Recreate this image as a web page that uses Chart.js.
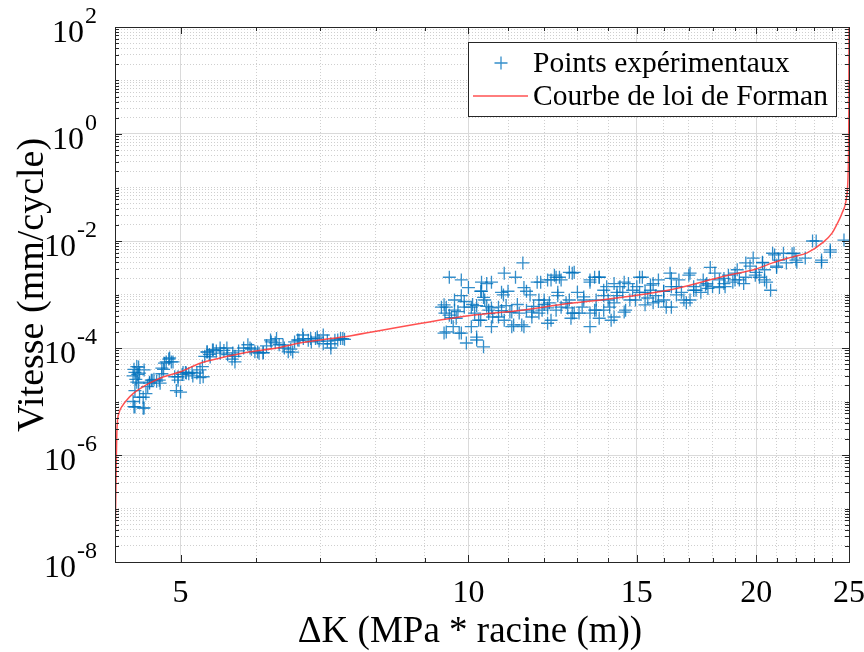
<!DOCTYPE html>
<html>
<head>
<meta charset="utf-8">
<script src="https://cdn.jsdelivr.net/npm/chart.js@4.4.1/dist/chart.umd.min.js"></script>
<style>
  html, body { margin: 0; padding: 0; background: #fff; }
</style>
</head>
<body>
<canvas id="crackChart" width="864" height="652"></canvas>
<script>
// Tick values
const xTickLabels = [5, 10, 15, 20, 25];
const xMinorTicks = [6, 7, 8, 9, 11, 12, 13, 14, 16, 17, 18, 19, 21, 22, 23, 24];
const yTickExponents = [-8, -6, -4, -2, 0, 2];
const xTitle = 'ΔK (MPa * racine (m))';
const yTitle = 'Vitesse (mm/cycle)';

// Points expérimentaux (delta K, vitesse)
const pointsK = [
  4.46, 4.47, 4.48, 4.49, 4.50, 4.51, 4.52, 4.48, 4.46, 4.47,
  4.53, 4.57, 4.60, 4.62, 4.64, 4.66, 4.69, 4.72, 4.75, 4.78,
  4.80, 4.83, 4.86, 4.89, 4.93, 4.95, 4.97, 5.02, 5.06, 5.10,
  5.15, 5.20, 5.24, 5.27, 5.30, 5.33, 5.36, 5.40, 5.45, 5.50,
  5.55, 5.60, 5.66, 5.70, 5.75, 5.82, 5.88, 5.93, 5.98, 6.04,
  6.10, 6.15, 6.22, 6.28, 6.34, 6.42, 6.48, 6.52, 6.58, 6.65,
  6.72, 6.80, 6.85, 6.92, 6.98, 7.05, 7.12, 7.18, 7.25, 7.35, 7.42,
  4.52, 4.53, 4.58, 4.50, 4.57, 4.48, 4.58, 4.64, 4.67, 4.76,
  4.78, 4.81, 4.87, 4.91, 4.97, 5.00, 5.03, 5.07, 5.14, 5.24,
  5.28, 5.33, 5.41, 5.50, 5.59, 5.37,
  5.67, 5.70, 5.91, 6.02, 6.10, 6.21, 6.30, 6.40, 6.55, 6.63,
  6.71, 6.84, 6.95, 7.05, 7.18, 7.30, 7.39,
  9.55, 9.83, 10.32, 10.57, 10.9, 11.2, 11.4, 10.0, 10.3, 9.83,
  9.37, 9.48, 9.67, 9.9, 10.07, 9.43, 9.64, 9.6, 9.83, 9.95,
  10.2, 10.37, 10.07, 10.3, 10.4, 10.5, 10.6, 10.57, 10.75, 10.83,
  11.0, 11.05, 11.1, 11.37, 11.3, 11.5, 11.5, 11.8, 11.85, 11.85,
  12.1, 12.15, 12.1, 12.3, 12.4, 12.5, 12.5, 12.75, 12.9, 13.05,
  13.15, 13.4, 13.4, 13.55, 13.6, 13.7, 13.85, 13.85, 13.95, 14.1,
  14.2, 14.4, 14.6, 14.7, 14.85, 14.95, 15.2, 15.3, 15.6, 15.6,
  15.8, 16.0, 16.1, 16.25, 16.3, 16.6, 16.7, 17.05, 17.05, 17.2,
  17.5, 17.6, 17.9, 18.0, 18.3, 18.5, 18.7, 19.0, 19.1, 19.4,
  19.5, 19.85, 20.0, 20.3, 20.4, 20.7, 20.9, 21.0, 21.5, 21.8,
  22.0, 22.5, 23.1, 23.4, 23.9, 24.7, 9.67, 10.15, 10.75, 10.9,
  11.65, 11.94, 12.35, 12.65, 12.84, 13.4, 13.6, 14.0, 14.3, 15.1,
  15.5, 15.7, 16.5, 16.8, 17.3, 17.75, 18.1, 18.55, 19.2, 19.7,
  20.15, 21.1, 12.75, 12.35, 10.1, 10.45, 10.95, 11.25, 11.7, 12.0,
  9.45, 9.75, 13.2, 14.5, 16.0, 17.8,
  10.32, 10.45, 11.43, 10.37, 9.9, 9.43, 10.2, 10.88, 11.6, 10.57,
  10.83, 11.1, 11.65, 9.55, 9.71, 10.25, 10.5, 11.15, 11.43, 9.48,
  9.78, 10.2,
  11.9, 12.2, 12.45, 12.84, 13.4, 13.7, 14.2, 14.55, 15.0, 12.0,
  12.4, 13.0, 13.2, 13.85, 14.3, 14.75, 12.1, 12.7, 12.9, 13.55,
  14.05, 14.55, 12.2, 12.8, 13.7, 14.2,
  15.1, 15.5, 16.3, 17.0, 18.5, 19.0, 15.4, 16.0, 16.5, 17.2,
  17.7, 18.3, 18.9, 15.3, 15.8, 16.3, 16.9,
  19.5, 19.95, 20.3, 20.4, 20.5, 20.8, 21.0, 21.35, 21.9, 22.05,
  22.9, 23.4, 23.9
];
const pointsV = [
  3.0e-5, 4.0e-5, 3.5e-5, 2.6e-5, 4.5e-5, 3.2e-5, 2.2e-5, 1.6e-5, 1.0e-5, 8.0e-6,
  1.2e-5, 7.5e-6, 1.4e-5, 1.9e-5, 2.3e-5, 2.5e-5, 2.6e-5, 2.4e-5, 2.5e-5, 3.3e-5,
  4.0e-5, 5.5e-5, 6.2e-5, 5.5e-5, 2.9e-5, 1.6e-5, 2.5e-5, 3.2e-5, 3.5e-5, 3.3e-5,
  3.0e-5, 3.4e-5, 2.8e-5, 4.5e-5, 7.0e-5, 8.5e-5, 7.6e-5, 9.2e-5, 8.8e-5, 8.0e-5,
  9.0e-5, 7.5e-5, 6.2e-5, 7.0e-5, 8.8e-5, 1.0e-4, 1.15e-4, 9.5e-5, 8.5e-5, 8.0e-5,
  8.2e-5, 1.1e-4, 1.3e-4, 1.25e-4, 1.15e-4, 1.0e-4, 8.5e-5, 9.5e-5, 1.3e-4, 1.4e-4,
  1.5e-4, 1.4e-4, 1.3e-4, 1.5e-4, 1.35e-4, 1.2e-4, 1.35e-4, 1.2e-4, 1.4e-4, 1.5e-4, 1.45e-4,
  4.4e-5, 3.4e-5, 3.9e-5, 2.3e-5, 1.2e-5, 7.9e-6, 7.6e-6, 2.2e-5, 2.5e-5, 2.2e-5,
  4.2e-5, 5.2e-5, 6.5e-5, 5.5e-5, 2.9e-5, 1.5e-5, 3.5e-5, 3.4e-5, 3.5e-5, 3.9e-5,
  2.9e-5, 8.4e-5, 9.2e-5, 1.0e-4, 1.0e-4, 6.8e-5,
  8.1e-5, 5.5e-5, 1.0e-4, 8.4e-5, 8.1e-5, 1.41e-4, 1.5e-4, 1.14e-4, 8.4e-5, 1.41e-4,
  1.75e-4, 1.5e-4, 1.6e-4, 1.75e-4, 1.0e-4, 1.41e-4, 1.5e-4,
  2.1e-3, 1.87e-3, 1.7e-3, 1.7e-3, 2.5e-3, 2.1e-3, 3.9e-3, 1.35e-3, 1.15e-3, 9.5e-4,
  5.8e-4, 5.8e-4, 5.1e-4, 5.8e-4, 5.8e-4, 1.9e-4, 2.5e-4, 3.7e-4, 1.9e-4, 1.24e-4,
  1.41e-4, 1.05e-4, 2.5e-4, 3.3e-4, 7.9e-4, 5.1e-4, 3.8e-4, 2.5e-4, 5.8e-4, 1.1e-3,
  1.15e-3, 4.7e-4, 2.5e-4, 2.7e-4, 4.5e-4, 1.15e-3, 5.1e-4, 1.7e-3, 7.9e-4, 4.5e-4,
  1.87e-3, 7.0e-4, 2.9e-4, 2.3e-3, 1.1e-3, 1.87e-3, 5.8e-4, 7.9e-4, 2.6e-3, 4.5e-4,
  5.8e-4, 2.5e-4, 1.7e-3, 2.1e-3, 7.9e-4, 2.1e-3, 1.2e-3, 5.1e-4, 1.4e-3, 3.3e-4,
  7.0e-4, 1.4e-3, 5.1e-4, 1.6e-3, 1.2e-3, 7.9e-4, 2.1e-3, 1.1e-3, 1.6e-3, 7.0e-4,
  1.87e-3, 7.9e-4, 5.8e-4, 2.5e-3, 1.4e-3, 1.87e-3, 1.1e-3, 2.5e-3, 7.9e-4, 1.4e-3,
  1.1e-3, 1.87e-3, 3.2e-3, 1.4e-3, 1.87e-3, 1.6e-3, 2.3e-3, 1.87e-3, 2.9e-3, 1.6e-3,
  2.1e-3, 4.8e-3, 2.6e-3, 3.9e-3, 1.87e-3, 1.2e-3, 5.5e-3, 3.4e-3, 3.9e-3, 5.8e-3,
  4.4e-3, 4.8e-3, 1.0e-2, 4.4e-3, 6.8e-3, 1.04e-2, 7.9e-4, 4.5e-4, 3.8e-4, 3.3e-4,
  3.8e-4, 5.1e-4, 5.1e-4, 7.0e-4, 4.5e-4, 4.5e-4, 5.1e-4, 7.9e-4, 9.5e-4, 1.1e-3,
  1.2e-3, 9.5e-4, 1.4e-3, 7.9e-4, 1.2e-3, 1.6e-3, 2.5e-3, 1.4e-3, 1.87e-3, 3.4e-3,
  2.1e-3, 4.4e-3, 2.6e-3, 2.1e-3, 6.5e-4, 6.0e-4, 6.2e-4, 6.5e-4, 6.0e-4, 6.5e-4,
  4.5e-4, 4.8e-4, 9.0e-4, 1.1e-3, 1.15e-3, 1.3e-3,
  1.15e-3, 1.6e-3, 1.35e-3, 8.8e-4, 7.4e-4, 6.4e-4, 6.2e-4, 9.8e-4, 9.8e-4, 5.6e-4,
  5.0e-4, 4.7e-4, 4.7e-4, 4.1e-4, 3.6e-4, 3.3e-4, 4.4e-4, 2.7e-4, 2.5e-4, 2.0e-4,
  1.9e-4, 1.6e-4,
  1.7e-3, 1.87e-3, 2.1e-3, 2.5e-3, 1.87e-3, 2.1e-3, 1.6e-3, 1.7e-3, 1.4e-3, 7.9e-4,
  9.5e-4, 1.1e-3, 7.9e-4, 9.5e-4, 1.1e-3, 7.9e-4, 5.6e-4, 5.6e-4, 4.5e-4, 5.1e-4,
  5.8e-4, 4.7e-4, 3.3e-4, 3.6e-4, 3.6e-4, 3.8e-4,
  2.1e-3, 1.5e-3, 2.0e-3, 2.3e-3, 2.0e-3, 2.5e-3, 8.6e-4, 1.15e-3, 9.8e-4, 1.2e-3,
  1.5e-3, 1.35e-3, 1.7e-3, 6.4e-4, 7.4e-4, 5.8e-4, 7.0e-4,
  3.9e-3, 2.3e-3, 4.0e-3, 2.9e-3, 1.7e-3, 5.9e-3, 3.2e-3, 5.9e-3, 5.9e-3, 4.0e-3,
  1.0e-2, 4.0e-3, 6.2e-3
];

// Courbe de loi de Forman
const curveK = [4.272, 4.28, 4.29, 4.31, 4.35, 4.40, 4.46, 4.55, 4.64, 4.8,
  5.0, 5.24, 5.5, 5.91, 6.3, 6.68, 7.54, 8.93, 10, 11.37,
  12.5, 14.5, 16.5, 18.5, 20.0, 20.8, 21.8, 22.6, 23.5, 24.0,
  24.3, 24.6, 24.85, 24.95, 24.99, 25.0];
const curveV = [2.8e-8, 3e-7, 3e-6, 6e-6, 8.5e-6, 1.1e-5, 1.4e-5, 1.8e-5, 2.2e-5, 2.9e-5,
  3.6e-5, 5.2e-5, 6.5e-5, 8.5e-5, 1.0e-4, 1.25e-4, 1.7e-4, 2.9e-4, 4.0e-4, 5.1e-4,
  6.5e-4, 8.9e-4, 1.3e-3, 2.2e-3, 3.0e-3, 3.9e-3, 5.0e-3, 6.0e-3, 9.5e-3, 1.4e-2,
  2.1e-2, 3.4e-2, 6.5e-2, 0.2, 3, 100];

const serif = '"Liberation Serif", "Times New Roman", serif';
const axisColor = '#262626';

function isMajorY(v) {
  const e = Math.log10(v);
  const r = Math.round(e);
  return Math.abs(e - r) < 1e-6 && r % 2 === 0;
}
function isMajorX(v) { return xTickLabels.includes(v); }

// all y grid values: 1..9 x 10^k
const yGridValues = [];
for (let k = -8; k <= 1; k++) {
  for (let m = 1; m <= 9; m++) yGridValues.push(parseFloat(m + 'e' + k));
}
yGridValues.push(100);

// box, inward ticks, y tick labels (10 with exponent), axis titles, legend
const matlabAxes = {
  id: 'matlabAxes',
  afterDraw(chart) {
    const ctx = chart.ctx;
    const a = chart.chartArea;
    const xs = chart.scales.x, ys = chart.scales.y;
    ctx.save();
    ctx.strokeStyle = axisColor;
    ctx.lineWidth = 1;
    ctx.beginPath();
    xs.ticks.forEach(t => {
      const px = Math.round(xs.getPixelForValue(t.value)) + 0.5;
      const len = isMajorX(t.value) ? 7 : 4;
      ctx.moveTo(px, a.bottom); ctx.lineTo(px, a.bottom - len);
      ctx.moveTo(px, a.top); ctx.lineTo(px, a.top + len);
    });
    ys.ticks.forEach(t => {
      const py = Math.round(ys.getPixelForValue(t.value)) + 0.5;
      const len = isMajorY(t.value) ? 7 : 4;
      ctx.moveTo(a.left, py); ctx.lineTo(a.left + len, py);
      ctx.moveTo(a.right, py); ctx.lineTo(a.right - len, py);
    });
    ctx.stroke();
    ctx.strokeRect(Math.round(a.left) + 0.5, Math.round(a.top) + 0.5,
      Math.round(a.right - a.left), Math.round(a.bottom - a.top));

    // y tick labels
    ctx.fillStyle = '#000';
    const rightX = 97;
    yTickExponents.forEach(e => {
      const py = ys.getPixelForValue(Math.pow(10, e));
      const expTxt = String(e);
      ctx.font = '24px ' + serif;
      const ew = ctx.measureText(expTxt).width;
      ctx.textAlign = 'left';
      ctx.textBaseline = 'alphabetic';
      ctx.fillText(expTxt, rightX - ew, py - 4);
      ctx.font = '32px ' + serif;
      ctx.textAlign = 'right';
      ctx.textBaseline = 'middle';
      ctx.fillText('10', rightX - ew - 1, py + 7);
    });

    // axis titles
    ctx.font = '37px ' + serif;
    ctx.textAlign = 'center';
    ctx.textBaseline = 'middle';
    ctx.fillText(xTitle, 470, 632);
    ctx.save();
    ctx.translate(33, 285);
    ctx.rotate(-Math.PI / 2);
    ctx.font = '38px ' + serif;
    ctx.fillText(yTitle, 0, 0);
    ctx.restore();

    // legend
    const lx = 468, ly = 42, lw = 368, lh = 74;
    ctx.fillStyle = '#fff';
    ctx.fillRect(lx, ly, lw, lh);
    ctx.strokeStyle = axisColor;
    ctx.strokeRect(lx + 0.5, ly + 0.5, lw, lh);
    const ds0 = chart.data.datasets[0], ds1 = chart.data.datasets[1];
    ctx.strokeStyle = ds0.borderColor;
    ctx.lineWidth = ds0.pointBorderWidth;
    ctx.beginPath();
    ctx.moveTo(501 - 6.5, 63); ctx.lineTo(501 + 6.5, 63);
    ctx.moveTo(501, 63 - 6.5); ctx.lineTo(501, 63 + 6.5);
    ctx.stroke();
    ctx.strokeStyle = ds1.borderColor;
    ctx.lineWidth = ds1.borderWidth;
    ctx.beginPath();
    ctx.moveTo(473, 96); ctx.lineTo(528, 96);
    ctx.stroke();
    ctx.fillStyle = '#000';
    ctx.font = '29.5px ' + serif;
    ctx.textAlign = 'left';
    ctx.textBaseline = 'middle';
    ctx.fillText(ds0.label, 533, 64);
    ctx.fillText(ds1.label, 533, 97);
    ctx.restore();
  }
};

const crackChart = new Chart(document.getElementById('crackChart').getContext('2d'), {
  type: 'scatter',
  data: {
    datasets: [{
      label: 'Points expérimentaux',
      data: pointsK.map((k, i) => ({ x: k, y: pointsV[i] })),
      pointStyle: 'cross',
      pointRadius: 6.5,
      pointBorderWidth: 1.3,
      borderColor: 'rgba(0, 114, 189, 0.8)',
      backgroundColor: 'rgba(0, 114, 189, 0.8)',
      showLine: false,
      order: 1
    }, {
      label: 'Courbe de loi de Forman',
      data: curveK.map((k, i) => ({ x: k, y: curveV[i] })),
      showLine: true,
      borderColor: 'rgba(255, 50, 50, 0.85)',
      borderWidth: 1.5,
      pointRadius: 0,
      cubicInterpolationMode: 'monotone',
      order: 0
    }]
  },
  options: {
    responsive: false,
    animation: false,
    layout: { padding: { top: 27, right: 15, left: 0, bottom: 0 } },
    plugins: { legend: { display: false }, tooltip: { enabled: false } },
    scales: {
      x: {
        type: 'logarithmic',
        min: 4.27,
        max: 25,
        afterBuildTicks: s => { s.ticks = xTickLabels.concat(xMinorTicks).sort((p, q) => p - q).map(v => ({ value: v })); },
        afterFit: s => { s.height = 90; s.paddingLeft = 0; s.paddingRight = 0; },
        ticks: {
          autoSkip: false,
          maxRotation: 0,
          minRotation: 0,
          padding: 12,
          color: '#000',
          font: { family: serif, size: 32 },
          callback: v => isMajorX(v) ? String(v) : ''
        },
        grid: {
          drawTicks: false,
          color: c => (c.tick && isMajorX(c.tick.value)) ? '#dadada' : '#cfcfcf'
        },
        border: { display: false, dash: c => (c.tick && !isMajorX(c.tick.value)) ? [1, 2] : [] }
      },
      y: {
        type: 'logarithmic',
        min: 1e-8,
        max: 100,
        afterBuildTicks: s => { s.ticks = yGridValues.map(v => ({ value: v })); },
        afterFit: s => { s.width = 115; },
        ticks: { display: false, autoSkip: false },
        grid: {
          drawTicks: false,
          color: c => (c.tick && isMajorY(c.tick.value)) ? '#dadada' : '#cfcfcf'
        },
        border: { display: false, dash: c => (c.tick && !isMajorY(c.tick.value)) ? [1, 2] : [] }
      }
    }
  },
  plugins: [matlabAxes]
});
</script>
</body>
</html>
